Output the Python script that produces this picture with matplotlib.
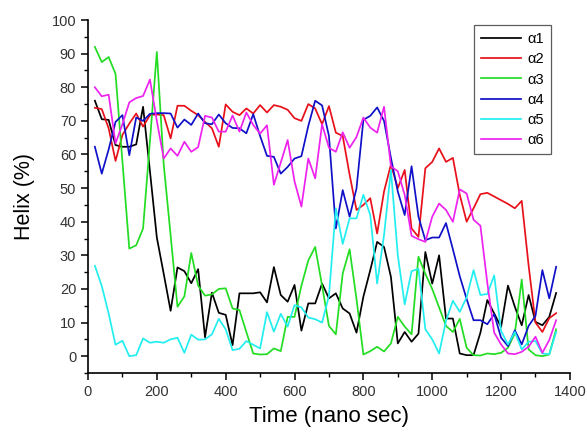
import numpy as np
import matplotlib
matplotlib.use('Agg')
import matplotlib.pyplot as plt
from matplotlib.ticker import MultipleLocator

plt.rcParams['font.family'] = ['Liberation Sans', 'DejaVu Sans']

# tempo (ns), um ponto a cada 20 ns
time_ns = np.arange(20, 1361, 20)

helix_a1 = [76, 70.5, 70.3, 62.8, 62.3, 62.3, 63, 74.2, 55, 35.3,
            24.5, 13.5, 26.4, 25.3, 21.7, 25.9, 5.6, 18.9, 12.9, 12.3,
            3.3, 18.7, 18.7, 18.7, 19, 16, 26.5, 18.2, 16.2, 21.2,
            7.6, 15.7, 15.7, 21.6, 17.2, 18.7, 14.2, 12.7, 7, 17.7,
            25.6, 34, 32.5, 23.6, 3.8, 7.2, 4.3, 6.7, 31, 21.6,
            30, 11.2, 11.2, 0.8, 0.3, 0.3, 7, 16.7, 12.7, 8.7,
            21, 14.7, 9.2, 18.2, 10.2, 9.2, 11.7, 18.8]

helix_a2 = [73.9, 73.5, 67.8, 58.1, 65.8, 69.2, 72.2, 68.3, 71.7, 71.9,
            71.7, 64.8, 74.5, 74.5, 73, 71.7, 69.7, 67.8, 62.3, 74.9,
            72.7, 71.7, 73.7, 72.2, 74.7, 72.5, 74.7, 74.2, 73.3, 70.8,
            70, 75, 73.7, 69, 74.4, 66.5, 65.5, 54, 43.5, 45,
            47, 36.5, 49, 57, 50, 55.4, 38, 35.5, 55.9, 57.8,
            61.8, 57.8, 59, 48, 40, 44, 48.2, 48.6, 47.5, 46.4,
            45.3, 44, 46.2, 27, 10, 7.2, 11.3, 12.8]

helix_a3 = [92, 87.5, 89, 84, 58, 32, 33, 38, 64, 90.5,
            57, 36, 14.7, 17.8, 30.7, 21, 18, 18.4, 20, 20.2,
            14.2, 13.7, 7.2, 0.8, 0.5, 0.6, 2.3, 1.5, 11.7, 11.7,
            21, 28.5, 32.5, 21, 9, 6.5, 24.6, 31.8, 17, 0.5,
            1.5, 2.8, 1.4, 3.8, 11.7, 8.8, 6.5, 29.6, 24.5, 20,
            14.5, 9, 7.2, 11.1, 2.5, 0.3, 0.2, 0.8, 0.6, 1,
            2.5, 6.8, 22.8, 2, 0.3, 0, 0.5, 8]

helix_a4 = [62.3, 54.3, 61.5, 69.7, 71.7, 59.8, 71, 70, 72.1, 72.3,
            72.3, 72.2, 68, 70.4, 68.8, 72.2, 69.3, 69, 71.9, 69.3,
            67.9, 67.8, 66.3, 72, 65.5, 59.6, 59.3, 54.3, 56.3, 58.8,
            59.5, 68.5, 76, 74.6, 65.5, 38, 49.4, 41.5, 49.9, 70.3,
            71.5, 74, 70, 59, 49, 42, 56.5, 41.5, 34.5, 35.3,
            35.3, 39.6, 31.8, 23.8, 17, 10.7, 10.7, 9.5, 12.5, 5.5,
            3, 7.7, 3.5, 9, 12, 25.6, 17.2, 26.6]

helix_a5 = [26.9, 20.9, 12.7, 3.4, 4.6, 0, 0.3, 5.3, 4, 4.3,
            4, 5, 5.5, 1, 6.4, 4.9, 5, 6.5, 11.1, 8,
            1.8, 2.2, 4.5, 3.4, 2.3, 13.1, 7.3, 12.6, 8.8, 15.2,
            14.5, 11.5, 11, 10, 18, 44, 33.4, 41, 41, 48,
            42, 21.6, 36, 55.4, 30, 15.4, 25.3, 26, 8, 5,
            0.8, 10.5, 16.5, 13.2, 17.5, 25.6, 18.2, 18.5, 24, 7.5,
            3.5, 7.2, 2, 4.3, 4.5, 0.8, 0.6, 7.2]

helix_a6 = [80, 77.3, 77.8, 63.3, 69, 75.5, 76.8, 77.4, 82.3, 70,
            58.8, 61.8, 59.6, 63.8, 60.8, 62.2, 71.5, 71, 66.8, 66.8,
            71.6, 66.8, 72.5, 68.8, 66.2, 68.7, 51, 57.6, 64.3, 52,
            44.5, 58.8, 52.9, 69, 62, 60.8, 66.6, 62, 65.2, 71,
            68, 66.5, 74.2, 56.5, 55, 48, 35.8, 34.8, 34, 41.5,
            45.4, 43.5, 40, 49.6, 48.4, 40.6, 38.8, 21.8, 7, 3.5,
            0.8, 0.6, 1.3, 2.8, 5.8, 1, 4.8, 10.7]

series = [helix_a1, helix_a2, helix_a3, helix_a4, helix_a5, helix_a6]
labels = ['\u03b11', '\u03b12', '\u03b13', '\u03b14', '\u03b15', '\u03b16']
colors = ['#000000', '#e8101a', '#22dd22', '#1010c8', '#22eef0', '#ee22ee']

fig = plt.figure(figsize=(5.87, 4.32), dpi=100)
ax = fig.add_axes([0.1499, 0.1366, 0.821, 0.817])

for vals, lab, col in zip(series, labels, colors):
    ax.plot(time_ns, vals, color=col, lw=1.25, label=lab)

ax.set_xlim(0, 1400)
ax.set_ylim(-5, 100)
ax.xaxis.set_major_locator(MultipleLocator(200))
ax.xaxis.set_minor_locator(MultipleLocator(100))
ax.yaxis.set_major_locator(MultipleLocator(10))
ax.yaxis.set_minor_locator(MultipleLocator(5))
ax.set_yticks(np.arange(0, 101, 10))

for s in ['top', 'right']:
    ax.spines[s].set_visible(False)
for s in ['left', 'bottom']:
    ax.spines[s].set_linewidth(1.2)

ax.tick_params(which='major', direction='out', length=5, width=1.1,
               labelsize=10.5, labelcolor='#333333')
ax.tick_params(which='minor', direction='out', length=3, width=1.0)

ax.set_xlabel('Time (nano sec)', fontsize=16, labelpad=5)
ax.set_ylabel('Helix (%)', fontsize=15.5, labelpad=12)

leg = ax.legend(loc='upper right', bbox_to_anchor=(0.9387, 0.942),
                bbox_transform=fig.transFigure, fontsize=10.5,
                frameon=True, fancybox=False, handlelength=2.75,
                labelspacing=0.42, borderpad=0.5, handletextpad=0.4,
                borderaxespad=0)
leg.get_frame().set_edgecolor('#333333')
leg.get_frame().set_linewidth(0.9)

plt.savefig('out.png', dpi=100)
